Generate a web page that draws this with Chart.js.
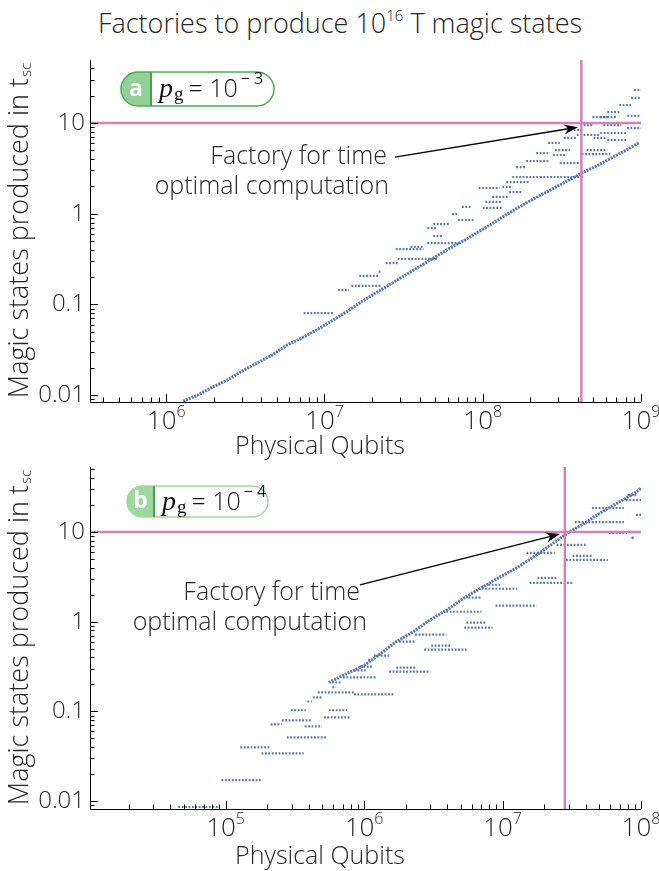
<!DOCTYPE html>
<html>
<head>
<title>Factories to produce magic states</title>
<script src="https://cdn.jsdelivr.net/npm/chart.js"></script>
<style>
  body { margin: 0; background: #fff; width: 659px; height: 871px; position: relative; overflow: hidden; }
  #title { position: absolute; top: 4px; left: 0; width: 680px; text-align: center;
           font: 300 27px "Open Sans", Lato, sans-serif; color: #262626; }
  #title sup { font-size: 15px; vertical-align: 12px; line-height: 0; }
  canvas { position: absolute; left: 0; }
</style>
</head>
<body>
<div id="title">Factories to produce 10<sup>16</sup> T magic states</div>
<canvas id="chartA" width="659" height="470" style="top:0"></canvas>
<canvas id="chartB" width="659" height="435" style="top:436px"></canvas>

<script>
// ---- panel a : p_g = 10^-3 ----
// lower (main) band of the scatter
var diagQubitsA = [1.28e6, 1.58e6, 1.97e6, 2.44e6, 3.03e6, 3.76e6, 4.67e6, 5.79e6, 7.18e6, 8.91e6,
  1.11e7, 1.37e7, 1.70e7, 2.11e7, 2.62e7, 3.25e7, 4.04e7, 5.01e7, 6.22e7, 7.72e7, 9.57e7,
  1.19e8, 1.47e8, 1.83e8, 2.27e8, 2.82e8, 3.50e8, 4.34e8, 5.38e8, 6.68e8, 8.30e8, 9.7e8];
var diagStatesA = [0.0086, 0.010, 0.0123, 0.0147, 0.0185, 0.0226, 0.0277, 0.0356, 0.0427, 0.0522,
  0.0656, 0.0824, 0.106, 0.134, 0.168, 0.211, 0.265, 0.333, 0.419, 0.513, 0.644,
  0.81, 1.02, 1.28, 1.57, 1.92, 2.35, 2.88, 3.44, 4.22, 5.17, 6.03];
// horizontal runs of factories: [qubits from, qubits to, states]
var runsA = [
  [7.39e6, 1.14e7, 0.080], [1.22e7, 1.43e7, 0.144], [1.48e7, 2.27e7, 0.160], [1.66e7, 2.18e7, 0.206],
  [2.2e7, 2.3e7, 0.23], [2.44e7, 2.90e7, 0.286], [2.90e7, 5.16e7, 0.317], [2.82e7, 4.22e7, 0.408],
  [3.5e7, 4.2e7, 0.43], [4.47e7, 7.08e7, 0.475], [4.87e7, 5.62e7, 0.567], [4.47e7, 5.16e7, 0.695],
  [4.87e7, 6.22e7, 0.769], [6.4e7, 7.08e7, 0.99], [6.98e7, 8.79e7, 0.853], [7.39e7, 8.53e7, 1.19],
  [1.0e8, 1.33e8, 1.16], [1.04e8, 1.33e8, 1.35], [1.15e8, 1.47e8, 1.53], [9.44e7, 1.28e8, 1.92],
  [1.33e8, 1.55e8, 1.97], [1.47e8, 1.75e8, 1.73], [1.41e8, 1.97e8, 2.23], [1.54e8, 2.30e8, 2.54],
  [1.63e8, 1.88e8, 3.27], [1.88e8, 2.66e8, 3.81], [2.18e8, 2.59e8, 4.67], [2.30e8, 4.34e8, 2.54],
  [2.78e8, 3.40e8, 4.44], [3.07e8, 4.04e8, 3.62], [2.86e8, 3.55e8, 5.03], [3.25e8, 3.93e8, 6.84],
  [2.59e8, 3.07e8, 6.03], [3.76e8, 4.34e8, 8.37], [3.93e8, 5.54e8, 7.38], [4.34e8, 5.01e8, 9.5],
  [4.22e8, 6.40e8, 4.55], [4.53e8, 6.13e8, 5.03], [5.01e8, 6.13e8, 6.84], [5.54e8, 8.17e8, 7.76],
  [6.13e8, 8.17e8, 6.5], [4.94e8, 6.13e8, 11.6], [5.54e8, 7.0e8, 11.6], [8.2e8, 1e9, 12.0],
  [5.79e8, 7.5e8, 9.5], [8.17e8, 1e9, 8.8], [7.29e8, 8.66e8, 15.8], [8.66e8, 1e9, 18.9],
  [9.04e8, 1e9, 23.1], [6.13e8, 7.29e8, 13.2]
];
var optimalA = { qubits: 4.2e8, states: 10 };
var arrowA = [2.79e7, 4.2, 4.0e8, 9.0];
var xMajorA = [1e6, 1e7, 1e8, 1e9];

// ---- panel b : p_g = 10^-4 ----
var diagQubitsB = [5.57e5, 7.78e5, 1.0e6, 1.29e6, 1.71e6, 2.27e6, 3.01e6, 3.99e6, 5.3e6, 7.05e6,
  9.36e6, 1.26e7, 1.68e7, 2.23e7, 2.96e7, 3.93e7, 5.21e7, 6.93e7, 9.2e7, 1e8];
var diagStatesB = [0.21, 0.271, 0.324, 0.43, 0.6, 0.774, 1.05, 1.36, 1.85, 2.39,
  3.08, 3.98, 5.27, 7.17, 9.75, 12.6, 16.7, 21.5, 27.8, 30.8];
var runsB = [
  [4.56e4, 8.9e4, 0.0086], [9.36e4, 1.82e5, 0.0171], [1.28e5, 2.12e5, 0.0398], [1.82e5, 3.67e5, 0.0341],
  [2.12e5, 2.55e5, 0.0717], [2.55e5, 4.2e5, 0.0794], [2.96e5, 3.8e5, 0.103], [2.77e5, 5.4e5, 0.0514],
  [3.73e5, 4.97e5, 0.068], [3.9e5, 4.2e5, 0.129], [4.27e5, 4.97e5, 0.143], [4.64e5, 8.47e5, 0.163],
  [8.47e5, 1.65e6, 0.155], [5.9e5, 6.3e5, 0.186], [5.86e5, 6.93e5, 0.21], [5.57e5, 7.53e5, 0.103],
  [5.13e5, 8.05e5, 0.086], [7.05e5, 1.24e6, 0.239], [8.47e5, 1.03e6, 0.286], [9.35e5, 1.14e6, 0.316],
  [1.07e6, 1.14e6, 0.375], [1.18e6, 1.52e6, 0.419], [1.52e6, 3.01e6, 0.278], [1.71e6, 2.34e6, 0.308],
  [2.72e6, 5.49e6, 0.489], [3.06e6, 4.2e6, 0.541], [1.79e6, 2.34e6, 0.6], [2.34e6, 3.93e6, 0.717],
  [5.3e6, 8.47e6, 0.858], [5.49e6, 7.53e6, 0.975], [3.93e6, 7.05e6, 1.29], [8.9e6, 1.76e7, 1.51],
  [5.67e6, 7.05e6, 1.85], [6.7e6, 1.28e7, 2.33], [7.9e6, 9.6e6, 2.58], [1.57e7, 3.21e7, 2.71],
  [1.79e7, 2.46e7, 3.08], [2.87e7, 5.77e7, 4.89], [3.21e7, 4.42e7, 5.41], [1.49e7, 2.38e7, 5.84],
  [2.46e7, 4.06e7, 7.17], [5.86e7, 7.93e7, 9.75], [3.33e7, 7.53e7, 12.9], [4.42e7, 7.53e7, 18.5],
  [9.2e7, 1e8, 15.5], [7.78e7, 1e8, 22.7], [8.0e7, 9.5e7, 25.8]
];
var lonePointsB = [[8.7e7, 8.6]];
var optimalB = { qubits: 2.82e7, states: 10 };
var arrowB = [9.35e5, 2.58, 2.6e7, 9.5];
var xMajorB = [1e5, 1e6, 1e7, 1e8];

var yMajor = [0.01, 0.1, 1, 10];
var yLabels = ['0.01', '0.1', '1', '10'];

var FONT = '"Open Sans", Lato, "DejaVu Sans", sans-serif';
var INK = '#262626';
var BLUE = '#5277b2';
var PINK = '#d57fbd';

function tickList(min, max) {
  var out = [];
  for (var e = Math.floor(Math.log10(min)); e <= Math.ceil(Math.log10(max)); e++) {
    for (var m = 1; m < 10; m++) {
      var v = m * Math.pow(10, e);
      if (v >= min * 0.999 && v <= max * 1.001) out.push({ v: v, major: m === 1 });
    }
  }
  return out;
}

function drawBadge(ctx, b) {
  var r = b.h / 2;
  ctx.save();
  ctx.beginPath();
  ctx.roundRect(b.x, b.y, b.w, b.h, r);
  ctx.fillStyle = '#fff';
  ctx.fill();
  ctx.save();
  ctx.clip();
  ctx.fillStyle = b.fill;
  ctx.fillRect(b.x, b.y, b.cell, b.h);
  ctx.restore();
  ctx.lineWidth = 1.5;
  ctx.strokeStyle = b.border;
  ctx.stroke();
  ctx.strokeStyle = '#3aac46';
  ctx.lineWidth = 2;
  ctx.beginPath();
  ctx.moveTo(b.x + b.cell, b.y);
  ctx.lineTo(b.x + b.cell, b.y + b.h);
  ctx.stroke();

  ctx.fillStyle = '#fff';
  ctx.font = 'bold 23px ' + FONT;
  ctx.textAlign = 'center';
  ctx.textBaseline = 'middle';
  ctx.fillText(b.letter, b.x + b.cell / 2, b.y + b.h / 2);

  var cx = b.x + b.cell + 8;
  var base = b.y + b.h / 2 + 8;
  ctx.textAlign = 'left';
  ctx.textBaseline = 'alphabetic';
  ctx.fillStyle = '#111';
  ctx.font = 'italic 28px "Liberation Serif", serif';
  ctx.fillText('p', cx, base);
  cx += ctx.measureText('p').width + 1;
  ctx.font = '19px "Liberation Serif", serif';
  ctx.fillText('g', cx, base + 3);
  cx += ctx.measureText('g').width + 5;
  ctx.font = '300 25px ' + FONT;
  ctx.fillText('= 10', cx, base);
  cx += ctx.measureText('= 10').width + 3;
  ctx.font = '400 16px ' + FONT;
  ctx.fillText('\u2212 ' + b.exp, cx, base - 13);
  ctx.restore();
}

var decor = {
  id: 'decor',
  afterDatasetsDraw: function (chart, args, o) {
    var ctx = chart.ctx, a = chart.chartArea, x = chart.scales.x, y = chart.scales.y;
    ctx.save();

    // arrow and its text
    var x0 = x.getPixelForValue(o.arrow[0]), y0 = y.getPixelForValue(o.arrow[1]);
    var x1 = x.getPixelForValue(o.arrow[2]), y1 = y.getPixelForValue(o.arrow[3]);
    var ang = Math.atan2(y1 - y0, x1 - x0), c = Math.cos(ang), s = Math.sin(ang);
    var hl = 14, hw = 5;
    ctx.strokeStyle = '#000';
    ctx.fillStyle = '#000';
    ctx.lineWidth = 1.3;
    ctx.beginPath();
    ctx.moveTo(x0, y0);
    ctx.lineTo(x1 - hl * 0.7 * c, y1 - hl * 0.7 * s);
    ctx.stroke();
    ctx.beginPath();
    ctx.moveTo(x1, y1);
    ctx.lineTo(x1 - hl * c + hw * s, y1 - hl * s - hw * c);
    ctx.lineTo(x1 - hl * 0.7 * c, y1 - hl * 0.7 * s);
    ctx.lineTo(x1 - hl * c - hw * s, y1 - hl * s + hw * c);
    ctx.closePath();
    ctx.fill();

    ctx.fillStyle = INK;
    ctx.font = '300 25px ' + FONT;
    ctx.textAlign = 'right';
    ctx.textBaseline = 'middle';
    ctx.fillText('Factory for time', x0 + o.textDx[0], y0 + o.textDy[0]);
    ctx.fillText('optimal computation', x0 + o.textDx[1], y0 + o.textDy[1]);

    // axes and inward ticks
    ctx.strokeStyle = '#000';
    ctx.lineWidth = 1;
    ctx.beginPath();
    ctx.moveTo(a.left + 0.5, a.top);
    ctx.lineTo(a.left + 0.5, a.bottom + 0.5);
    ctx.lineTo(a.right, a.bottom + 0.5);
    ctx.stroke();
    ctx.beginPath();
    tickList(x.min, x.max).forEach(function (t) {
      var px = Math.round(x.getPixelForValue(t.v)) + 0.5;
      ctx.moveTo(px, a.bottom);
      ctx.lineTo(px, a.bottom - (t.major ? 8 : 4.5));
    });
    tickList(y.min, y.max).forEach(function (t) {
      var py = Math.round(y.getPixelForValue(t.v)) + 0.5;
      ctx.moveTo(a.left, py);
      ctx.lineTo(a.left + (t.major ? 8 : 4.5), py);
    });
    ctx.stroke();

    // tick labels
    ctx.fillStyle = INK;
    ctx.textBaseline = 'alphabetic';
    ctx.textAlign = 'left';
    o.xMajor.forEach(function (v) {
      var e = String(Math.round(Math.log10(v)));
      ctx.font = '300 26px ' + FONT;
      var w1 = ctx.measureText('10').width;
      ctx.font = '300 16px ' + FONT;
      var w2 = ctx.measureText(e).width;
      var px = x.getPixelForValue(v) - (w1 + w2) / 2;
      ctx.font = '300 26px ' + FONT;
      ctx.fillText('10', px, a.bottom + 27);
      ctx.font = '300 16px ' + FONT;
      ctx.fillText(e, px + w1, a.bottom + 15);
    });
    ctx.font = '300 24px ' + FONT;
    ctx.textAlign = 'right';
    ctx.textBaseline = 'middle';
    yMajor.forEach(function (v, i) {
      ctx.fillText(yLabels[i], a.left - 5, y.getPixelForValue(v));
    });

    // axis titles
    ctx.font = '300 25px ' + FONT;
    ctx.textAlign = 'center';
    ctx.fillText('Physical Qubits', 320, a.bottom + o.xTitleDy);

    ctx.save();
    ctx.translate(20, (a.top + a.bottom) / 2);
    ctx.rotate(-Math.PI / 2);
    var main = 'Magic states produced in t';
    ctx.font = '300 27px ' + FONT;
    var wm = ctx.measureText(main).width;
    ctx.font = '300 15px ' + FONT;
    var ws = ctx.measureText('sc').width;
    ctx.textAlign = 'left';
    ctx.font = '300 27px ' + FONT;
    ctx.fillText(main, -(wm + ws) / 2, 0);
    ctx.font = '300 15px ' + FONT;
    ctx.fillText('sc', -(wm + ws) / 2 + wm + 1, 7);
    ctx.restore();

    drawBadge(ctx, o.badge);
    ctx.restore();
  }
};

function makeChart(id, p) {
  var runPts = [];
  p.runs.forEach(function (r) {
    runPts.push({ x: r[0], y: r[2] }, { x: r[1], y: r[2] }, { x: r[1], y: null });
  });
  var diag = p.diagX.map(function (v, i) { return { x: v, y: p.diagY[i] }; });
  var lone = (p.lone || []).map(function (q) { return { x: q[0], y: q[1] }; });
  var guide = [
    { x: p.xMin, y: p.opt.states }, { x: p.xMax, y: p.opt.states }, { x: p.xMax, y: null },
    { x: p.opt.qubits, y: p.yMin }, { x: p.opt.qubits, y: p.yMax }
  ];
  return new Chart(document.getElementById(id), {
    type: 'scatter',
    data: {
      datasets: [
        { data: guide, showLine: true, borderColor: PINK, borderWidth: 2.5, pointRadius: 0, order: 0 },
        { data: runPts, showLine: true, borderColor: BLUE, borderWidth: 2.2, borderDash: [1.8, 1.6],
          pointRadius: 0, order: 1 },
        { data: diag, showLine: true, borderColor: BLUE, borderWidth: 3, borderDash: [2, 1],
          pointRadius: 0, order: 1 },
        { data: lone, pointRadius: 1.3, pointBackgroundColor: BLUE, pointBorderWidth: 0, order: 1 }
      ]
    },
    options: {
      responsive: false,
      animation: false,
      events: [],
      layout: { padding: p.pad },
      plugins: {
        legend: { display: false },
        tooltip: { enabled: false },
        decor: {
          arrow: p.arrow, textDx: p.textDx, textDy: p.textDy, xMajor: p.xMajor,
          xTitleDy: p.xTitleDy, badge: p.badge
        }
      },
      scales: {
        x: { type: 'logarithmic', min: p.xMin, max: p.xMax, display: false },
        y: { type: 'logarithmic', min: p.yMin, max: p.yMax, display: false }
      }
    },
    plugins: [decor]
  });
}

makeChart('chartA', {
  diagX: diagQubitsA, diagY: diagStatesA, runs: runsA, opt: optimalA, arrow: arrowA, xMajor: xMajorA,
  xMin: 3.3e5, xMax: 1e9, yMin: 0.0084, yMax: 49.5,
  pad: { left: 90, right: 18, top: 60, bottom: 68 },
  textDx: [-8, -6], textDy: [0, 30], xTitleDy: 45,
  badge: { x: 121, y: 72, w: 153, h: 34, cell: 30, letter: 'a', exp: '3', fill: '#92cf99', border: '#48b150' }
});

makeChart('chartB', {
  diagX: diagQubitsB, diagY: diagStatesB, runs: runsB, lone: lonePointsB, opt: optimalB, arrow: arrowB,
  xMajor: xMajorB, xMin: 1.05e4, xMax: 1e8, yMin: 0.00817, yMax: 53,
  pad: { left: 90, right: 18, top: 31, bottom: 62 },
  textDx: [0, 7], textDy: [8, 38], xTitleDy: 48,
  badge: { x: 127, y: 50, w: 141, h: 31, cell: 27, letter: 'b', exp: '4', fill: '#9ed89f', border: '#9ddb9f' }
});
</script>
</body>
</html>
